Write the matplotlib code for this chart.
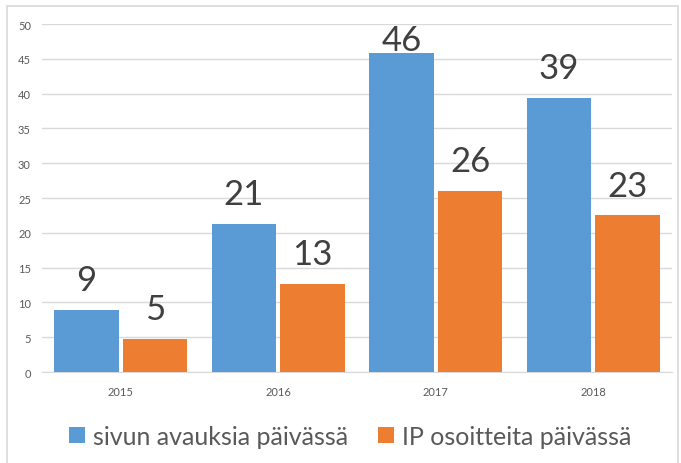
import matplotlib.pyplot as plt
import matplotlib.patches as mpatches
import numpy as np

plt.rcParams['font.family'] = ['Lato', 'DejaVu Sans']

years = ['2015', '2016', '2017', '2018']
avaukset = [8.9, 21.3, 45.8, 39.4]
ip_osoitteet = [4.8, 12.6, 26.0, 22.5]
avaukset_labels = ['9', '21', '46', '39']
ip_labels = ['5', '13', '26', '23']

blue = '#5B9BD5'
orange = '#ED7D31'
grid = '#D9D9D9'
text_col = '#595959'

fig = plt.figure(figsize=(6.81, 4.64), dpi=100)
ax = fig.add_axes([0.0617, 0.196, 0.925, 0.75])

# reunus koko kuvan ympärillä
fig.patches.append(mpatches.Rectangle((0.011, -0.01), 0.985, 0.995, transform=fig.transFigure,
                                      fill=False, edgecolor=grid, linewidth=1.2))

x = np.arange(len(years))
w = 0.41
off = 0.218
b1 = ax.bar(x - off, avaukset, w, color=blue, label='sivun avauksia päivässä', zorder=3)
b2 = ax.bar(x + off, ip_osoitteet, w, color=orange, label='IP osoitteita päivässä', zorder=3)

for bars, labels in ((b1, avaukset_labels), (b2, ip_labels)):
    for rect, lab in zip(bars, labels):
        h = rect.get_height()
        dy = 10 if h < 44 else -2
        ax.annotate(lab, (rect.get_x() + rect.get_width() / 2, h), xytext=(0, dy),
                    textcoords='offset points', ha='center', va='bottom',
                    fontsize=25, color='#404040', zorder=4)

ax.set_xlim(-0.5, 3.5)
ax.set_ylim(0, 50)
ax.set_yticks(range(0, 51, 5))
ax.set_xticks(x)
ax.set_xticklabels(years)
ax.yaxis.grid(True, color=grid, linewidth=1, zorder=0)
ax.tick_params(axis='both', length=0, labelsize=8, labelcolor=text_col)
ax.tick_params(axis='x', pad=10)
ax.tick_params(axis='y', pad=8)
for s in ['top', 'right', 'left']:
    ax.spines[s].set_visible(False)
ax.spines['bottom'].set_color(grid)

fig.legend(handles=[b1, b2], loc='center', bbox_to_anchor=(0.514, 0.058), ncol=2, frameon=False,
           fontsize=18, labelcolor=text_col, handlelength=0.64, handleheight=0.64,
           handletextpad=0.32, columnspacing=1.2)

plt.savefig('out.png', dpi=100)
plt.close(fig)
